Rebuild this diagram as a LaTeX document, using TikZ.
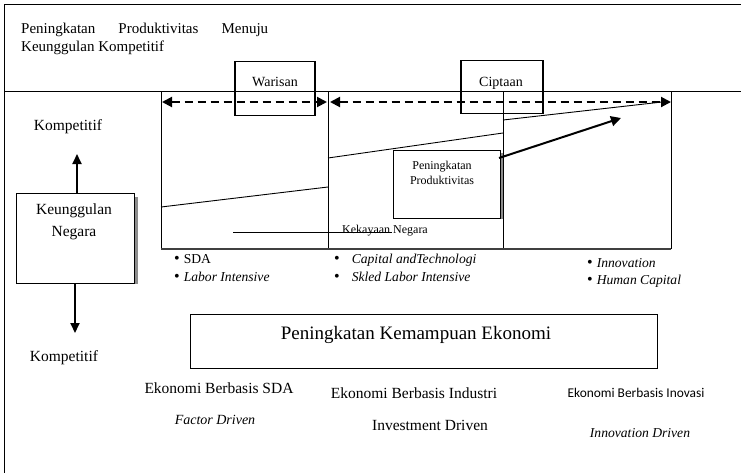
\documentclass[tikz,border=0pt]{standalone}
\usepackage{fontspec}
\setmainfont{Liberation Serif}
\newfontfamily\carlitofont{Carlito}
\usetikzlibrary{arrows.meta}
\tikzset{
  txt/.style={inner sep=0pt, font=#1},
  txt/.default={\fontsize{15}{18}\selectfont},
  boxframe/.style={draw, line width=1.2pt, inner sep=0pt},
  thin/.style={line width=0.9pt},
  dasharrow/.style={line width=2pt, dash pattern=on 8pt off 5pt, {Triangle[length=10pt,width=10pt]}-{Triangle[length=10pt,width=10pt]}},
  thickarrow/.style={line width=2pt, -{Triangle[length=10pt,width=10pt]}},
  vertarrow/.style={line width=1.8pt, -{Triangle[length=10pt,width=9pt]}},
  shadowfill/.style={fill=black!45, draw=none},
}
\begin{document}
\begin{tikzpicture}[x=1pt,y=-1pt]
\useasboundingbox (0,0) rectangle (741,472);
% outer frame
\draw[line width=1.1pt] (4.5,4.5) rectangle (760,490);
\draw[line width=1pt] (4.5,91) -- (760,91);

% title
\node[txt, anchor=north west, align=left] (title) at (21,23)
  {\parbox{247pt}{\fontsize{15}{18}\selectfont Peningkatan\hfill Produktivitas\hfill Menuju\\Keunggulan Kompetitif}};

% coordinates of the chart
\coordinate (a1) at (161,91);  \coordinate (a2) at (161,249);
\coordinate (b1) at (328,91);  \coordinate (b2) at (328,249);
\coordinate (c1) at (503,91);  \coordinate (c2) at (503,249);
\coordinate (d1) at (671,91);  \coordinate (d2) at (671,249);
\draw[thin] (a1) -- (a2);
\draw[thin] (b1) -- (b2);
\draw[thin] (c1) -- (c2);
\draw[thin] (d1) -- (d2);
\draw[line width=1.3pt, black!75] (a2) -- (d2);

% header boxes
\node[boxframe, minimum width=80pt, minimum height=54pt, anchor=north] (war) at (275,61) {};
\node[txt={\fontsize{14}{16}\selectfont}] (wartxt) at (275,82) {Warisan};
\node[boxframe, minimum width=82pt, minimum height=53pt, anchor=north] (cip) at (502,60) {};
\node[txt={\fontsize{14}{16}\selectfont}] (ciptxt) at (501,83) {Ciptaan};

% dashed arrows
\coordinate (da1) at (162,102); \coordinate (da2) at (327,102);
\coordinate (db1) at (330,102); \coordinate (db2) at (671,102);
\draw[dasharrow] (da1) -- (da2);
\draw[dasharrow] (db1) -- (db2);

% sloped lines
\coordinate (s1a) at (161,207); \coordinate (s1b) at (328,187);
\coordinate (s2a) at (328,158); \coordinate (s2b) at (503,133);
\coordinate (s3a) at (503,120); \coordinate (s3b) at (662,102);
\draw[thin] (s1a) -- (s1b);
\draw[thin] (s2a) -- (s2b);
\draw[thin] (s3a) -- (s3b);

% Peningkatan Produktivitas box
\fill[shadowfill] (500,153) rectangle (502.5,218.5);
\node[boxframe, minimum width=107pt, minimum height=68pt, anchor=north west] (pp) at (393,150) {};
\node[txt={\fontsize{12}{15}\selectfont}, align=center] (pptxt) at (442,173) {Peningkatan\\Produktivitas};
\coordinate (ta) at (499,158); \coordinate (tb) at (621,118);
\draw[thickarrow] (ta) -- (tb);

% Kekayaan Negara
\node[txt={\fontsize{12}{14}\selectfont}, anchor=west] (kek) at (342,230.5) {Kekayaan Negara};
\coordinate (kl) at (233,232); \coordinate (kr) at (392,232);
\draw[thin] (kl) -- (kr);

% bullets
\tikzset{bul/.style={txt={\fontsize{13.6}{16}\selectfont}, anchor=west}}
\node[bul] (b11) at (174,259) {{\fontsize{16}{16}\selectfont\textbullet}\hspace{4pt}SDA};
\node[bul] (b12) at (174,277) {{\fontsize{16}{16}\selectfont\textbullet}\hspace{4pt}\textit{Labor Intensive}};
\node[bul] (b21) at (334,260) {{\fontsize{16}{16}\selectfont\textbullet}\hspace{12pt}\textit{Capital andTechnologi}};
\node[bul] (b22) at (334,277) {{\fontsize{16}{16}\selectfont\textbullet}\hspace{12pt}\textit{Skled Labor Intensive}};
\node[bul] (b31) at (587,263) {{\fontsize{16}{16}\selectfont\textbullet}\hspace{4pt}\textit{Innovation}};
\node[bul] (b32) at (587,281) {{\fontsize{16}{16}\selectfont\textbullet}\hspace{4pt}\textit{Human Capital}};

% left side
\node[txt={\fontsize{15.5}{18}\selectfont}] (komp1) at (68,127) {Kompetitif};
\fill[shadowfill] (134,197) rectangle (137.5,284);
\node[boxframe, minimum width=118pt, minimum height=90pt, anchor=north west] (kn) at (16,193) {};
\node[txt={\fontsize{15.5}{22}\selectfont}, align=center] (kntxt) at (74,222) {Keunggulan\\Negara};
\coordinate (upend) at (77,154);
\draw[vertarrow] (kn.north -| upend) -- (upend);
\coordinate (downend) at (75,333);
\draw[vertarrow] (kn.south -| downend) -- (downend);
\node[txt={\fontsize{15.5}{18}\selectfont}] (komp2) at (64,358) {Kompetitif};

% big box
\node[boxframe, minimum width=467pt, minimum height=54pt, anchor=north west] (pke) at (190,314) {};
\node[txt={\fontsize{19}{22}\selectfont}] (pketxt) at (416,335) {Peningkatan Kemampuan Ekonomi};

% bottom labels
\node[txt={\fontsize{15.5}{18}\selectfont}] (e1) at (219,388) {Ekonomi Berbasis SDA};
\node[txt={\fontsize{14}{18}\selectfont\itshape}] (f1) at (215,420) {Factor Driven};
\node[txt={\fontsize{15.5}{18}\selectfont}] (e2) at (414,393) {Ekonomi Berbasis Industri};
\node[txt={\fontsize{15.5}{18}\selectfont}] (f2) at (430,425) {Investment Driven};
\node[txt={\fontsize{13.4}{16}\carlitofont}] (e3) at (636,393) {Ekonomi Berbasis Inovasi};
\node[txt={\fontsize{13.6}{16}\selectfont\itshape}] (f3) at (640,433) {Innovation Driven};
\end{tikzpicture}
\end{document}
